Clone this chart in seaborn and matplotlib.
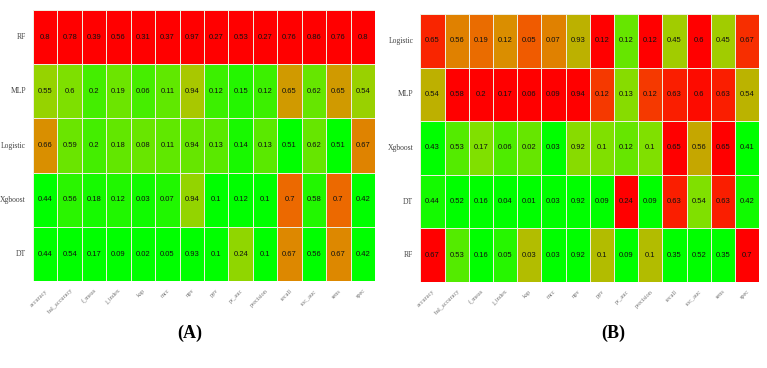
import numpy as np
import pandas as pd
import matplotlib
matplotlib.use("Agg")
import matplotlib.pyplot as plt
import seaborn as sns
from matplotlib.colors import LinearSegmentedColormap

metrics = ['accuracy', 'bal_accuracy', 'f_meas', 'j_index', 'kap', 'mcc', 'npv',
           'ppv', 'pr_auc', 'precision', 'recall', 'roc_auc', 'sens', 'spec']

# Panel A
models_a = ['RF', 'MLP', 'Logistic', 'Xgboost', 'DT']
rf_a = [0.8, 0.78, 0.39, 0.56, 0.31, 0.37, 0.97, 0.27, 0.53, 0.27, 0.76, 0.86, 0.76, 0.8]
mlp_a = [0.55, 0.6, 0.2, 0.19, 0.06, 0.11, 0.944, 0.12, 0.15, 0.12, 0.65, 0.62, 0.65, 0.54]
logistic_a = [0.66, 0.59, 0.2, 0.18, 0.08, 0.11, 0.938, 0.13, 0.14, 0.13, 0.51, 0.62, 0.51, 0.67]
xgboost_a = [0.44, 0.56, 0.18, 0.12, 0.03, 0.07, 0.942, 0.1, 0.12, 0.1, 0.7, 0.58, 0.7, 0.42]
dt_a = [0.44, 0.54, 0.17, 0.09, 0.02, 0.05, 0.93, 0.1, 0.24, 0.1, 0.67, 0.56, 0.67, 0.42]

# Panel B
models_b = ['Logistic', 'MLP', 'Xgboost', 'DT', 'RF']
logistic_b = [0.65, 0.56, 0.19, 0.12, 0.05, 0.07, 0.928, 0.122, 0.12, 0.122, 0.45, 0.6, 0.45, 0.67]
mlp_b = [0.54, 0.58, 0.2, 0.17, 0.06, 0.09, 0.94, 0.118, 0.13, 0.118, 0.63, 0.598, 0.63, 0.54]
xgboost_b = [0.43, 0.53, 0.17, 0.06, 0.02, 0.03, 0.924, 0.098, 0.12, 0.098, 0.65, 0.56, 0.65, 0.41]
dt_b = [0.44, 0.52, 0.16, 0.04, 0.01, 0.03, 0.918, 0.09, 0.24, 0.09, 0.63, 0.54, 0.63, 0.42]
rf_b = [0.67, 0.53, 0.16, 0.05, 0.03, 0.03, 0.918, 0.103, 0.09, 0.103, 0.35, 0.52, 0.35, 0.7]

df_a = pd.DataFrame([rf_a, mlp_a, logistic_a, xgboost_a, dt_a], index=models_a, columns=metrics)
df_b = pd.DataFrame([logistic_b, mlp_b, xgboost_b, dt_b, rf_b], index=models_b, columns=metrics)

# green -> red ramp
cmap = LinearSegmentedColormap.from_list(
    'gr',
    [(0.0, '#00ff00'), (0.25, '#80e000'), (0.35, '#a8c800'),
     (0.6, '#d89200'), (0.78, '#ee6400'), (1.0, '#ff0000')]
)


def draw(ax, df):
    # scale each column between its min and max
    scaled = (df - df.min()) / (df.max() - df.min())
    labels = df.map(lambda v: f"{round(v, 2):g}")
    sns.heatmap(
        scaled,
        ax=ax,
        cmap=cmap,
        vmin=0,
        vmax=1,
        cbar=False,
        annot=labels.values,
        fmt='',
        annot_kws={'fontsize': 5.5, 'color': '#111111', 'family': 'Liberation Sans'},
        linewidths=0.4,
        linecolor='#eeeedd'
    )
    ax.set_xticklabels(df.columns, rotation=45, ha='right', rotation_mode='anchor',
                       fontsize=4.5, color='#777777', family='Liberation Serif')
    ax.set_yticklabels(df.index, rotation=0, fontsize=5.5, color='#444444',
                       family='Liberation Serif')
    ax.tick_params(length=0, pad=5)
    ax.set_xlabel('')
    ax.set_ylabel('')


fig = plt.figure(figsize=(7.67, 3.68), dpi=100)
ax_a = fig.add_axes([0.043, 0.236, 0.446, 0.737])
ax_b = fig.add_axes([0.548, 0.234, 0.442, 0.728])

draw(ax_a, df_a)
draw(ax_b, df_b)

fig.text(0.248, 0.095, '(A)', ha='center', va='center', fontsize=13,
         fontweight='bold', family='Liberation Serif')
fig.text(0.80, 0.095, '(B)', ha='center', va='center', fontsize=13,
         fontweight='bold', family='Liberation Serif')

fig.savefig('out.png', dpi=100)
